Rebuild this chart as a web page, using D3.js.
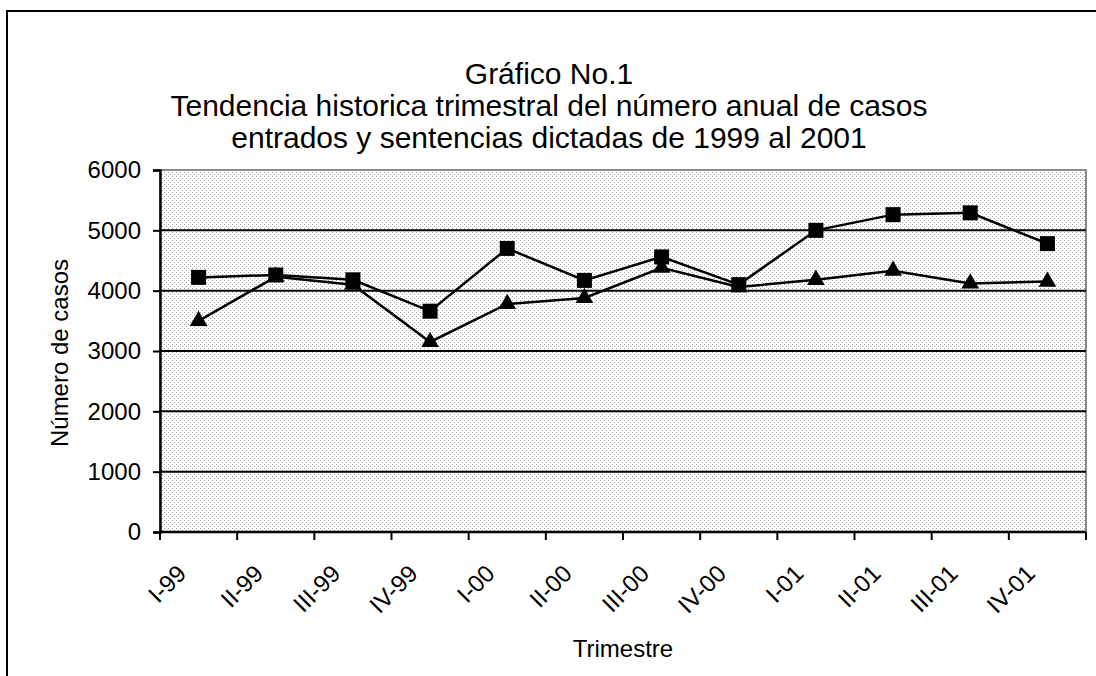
<!DOCTYPE html>
<html>
<head>
<meta charset="utf-8">
<script src="https://cdn.jsdelivr.net/npm/d3@7"></script>
<style>
  body { margin: 0; background: #fff; }
  svg { display: block; font-family: Arial, "Liberation Sans", sans-serif; }
</style>
</head>
<body>
<svg id="chart" width="1096" height="676"></svg>
<script>
// trimestres 1999-2001
var trimestres = ["I-99", "II-99", "III-99", "IV-99", "I-00", "II-00", "III-00", "IV-00", "I-01", "II-01", "III-01", "IV-01"];
var casosEntrados = [4220, 4260, 4180, 3660, 4700, 4170, 4560, 4100, 5000, 5260, 5290, 4780];
var sentenciasDictadas = [3500, 4230, 4100, 3150, 3780, 3880, 4380, 4060, 4180, 4330, 4120, 4150];
var yTicks = [0, 1000, 2000, 3000, 4000, 5000, 6000];
var titulo = ["Gráfico No.1",
  "Tendencia historica trimestral del número anual de casos",
  "entrados y sentencias dictadas de 1999 al 2001"];

var svg = d3.select("#chart"),
    width = +svg.attr("width"),
    height = +svg.attr("height");

var margin = {left: 160, right: 10, top: 170, bottom: 144};

var x = d3.scaleBand()
    .domain(trimestres)
    .range([margin.left, width - margin.right]);

var y = d3.scaleLinear()
    .domain([0, 6000])
    .range([height - margin.bottom, margin.top]);

// outer frame
svg.append("rect")
    .attr("x", 7).attr("y", 11)
    .attr("width", width).attr("height", height)
    .attr("fill", "none")
    .attr("stroke", "#000")
    .attr("stroke-width", 2);

// dotted fill like the old excel pattern
var defs = svg.append("defs");
var pat = defs.append("pattern")
    .attr("id", "dots")
    .attr("width", 4).attr("height", 4)
    .attr("patternUnits", "userSpaceOnUse");
pat.append("rect").attr("width", 4).attr("height", 4).attr("fill", "#fff");
pat.append("rect").attr("x", 0).attr("y", 0).attr("width", 1).attr("height", 1).attr("fill", "#a6a6a6");
pat.append("rect").attr("x", 2).attr("y", 2).attr("width", 1).attr("height", 1).attr("fill", "#a6a6a6");

svg.append("rect")
    .attr("x", margin.left)
    .attr("y", margin.top)
    .attr("width", width - margin.right - margin.left)
    .attr("height", y(0) - y(6000))
    .attr("fill", "url(#dots)")
    .attr("stroke", "#8c8c8c")
    .attr("stroke-width", 2);

// grid
svg.append("g")
    .selectAll("line")
    .data(yTicks.filter(function(d) { return d > 0 && d < 6000; }))
    .enter().append("line")
      .attr("x1", margin.left)
      .attr("x2", width - margin.right)
      .attr("y1", function(d) { return y(d); })
      .attr("y2", function(d) { return y(d); })
      .attr("stroke", "#000")
      .attr("stroke-width", 2);

// y axis
var yAxis = svg.append("g")
    .attr("transform", "translate(" + margin.left + ",0)")
    .call(d3.axisLeft(y).tickValues(yTicks).tickSize(7).tickPadding(12).tickFormat(d3.format("d")));
yAxis.select(".domain").attr("stroke-width", 2.5);
yAxis.selectAll(".tick line").attr("stroke-width", 2);
yAxis.selectAll("text")
    .style("font-size", "24px")
    .attr("fill", "#000");

// x axis, ticks between the categories
var xAxisG = svg.append("g")
    .attr("transform", "translate(0," + y(0) + ")");
xAxisG.append("line")
    .attr("x1", margin.left).attr("x2", width - margin.right)
    .attr("stroke", "#000").attr("stroke-width", 2.5);
var bounds = trimestres.map(function(d) { return x(d); }).concat([x.range()[1]]);
xAxisG.selectAll(".tk")
    .data(bounds)
    .enter().append("line")
      .attr("class", "tk")
      .attr("x1", function(d) { return d; })
      .attr("x2", function(d) { return d; })
      .attr("y1", 0).attr("y2", 8)
      .attr("stroke", "#000").attr("stroke-width", 2);
xAxisG.selectAll(".lbl")
    .data(trimestres)
    .enter().append("text")
      .attr("class", "lbl")
      .attr("text-anchor", "end")
      .attr("transform", function(d) {
        return "translate(" + (x(d) + x.bandwidth() / 2 - 11) + ",43) rotate(-45)";
      })
      .style("font-size", "24px")
      .text(function(d) { return d; });

// series
var line = d3.line()
    .x(function(d, i) { return x(trimestres[i]) + x.bandwidth() / 2; })
    .y(function(d) { return y(d); });

function drawSerie(values, symbol, size) {
  var g = svg.append("g");
  g.append("path")
      .datum(values)
      .attr("d", line)
      .attr("fill", "none")
      .attr("stroke", "#000")
      .attr("stroke-width", 2.5);
  g.selectAll("path.m")
      .data(values)
      .enter().append("path")
        .attr("class", "m")
        .attr("d", d3.symbol().type(symbol).size(size))
        .attr("transform", function(d, i) {
          return "translate(" + (x(trimestres[i]) + x.bandwidth() / 2) + "," + y(d) + ")";
        })
        .attr("fill", "#000");
}

drawSerie(sentenciasDictadas, d3.symbolTriangle, 135);
drawSerie(casosEntrados, d3.symbolSquare, 225);

// titles
svg.append("g")
    .selectAll("text")
    .data(titulo)
    .enter().append("text")
      .attr("x", 549)
      .attr("y", function(d, i) { return 84 + i * 32; })
      .attr("text-anchor", "middle")
      .style("font-size", "30px")
      .text(function(d) { return d; });

svg.append("text")
    .attr("transform", "translate(68," + (y(3000) + 2) + ") rotate(-90)")
    .attr("text-anchor", "middle")
    .style("font-size", "24px")
    .text("Número de casos");

svg.append("text")
    .attr("x", 623)
    .attr("y", 657)
    .attr("text-anchor", "middle")
    .style("font-size", "24px")
    .text("Trimestre");
</script>
</body>
</html>
